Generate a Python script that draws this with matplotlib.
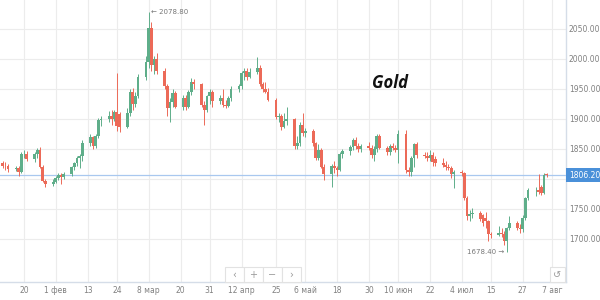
import matplotlib
matplotlib.use("Agg")
import matplotlib.pyplot as plt
import matplotlib.dates as mdates
from matplotlib.patches import Rectangle
import pandas as pd
import numpy as np

# ---------------- data ----------------
dates = pd.bdate_range("2022-01-12", "2022-08-05")

opens = [
    1827, 1822, 1821,
    1817, 1818, 1812, 1841, 1842,
    1833, 1841, 1849, 1820, 1797,
    1792, 1795, 1801, 1806, 1804,
    1808, 1820, 1826, 1835, 1838,
    1860, 1870, 1855, 1872, 1898,
    1900, 1905, 1900, 1912, 1908,
    1887, 1910, 1945, 1925, 1938,
    1970, 1995, 2052, 1990, 2000,
    1980, 1955, 1918, 1928, 1943,
    1920, 1935, 1920, 1945, 1962,
    1958, 1923, 1915, 1938, 1945,
    1930, 1935, 1923, 1922, 1935,
    1950, 1955, 1977, 1980, 1970,
    1978, 1985, 1958, 1950, 1945,
    1932, 1903, 1905, 1887, 1896,
    1900, 1855, 1860, 1890, 1877,
    1880, 1860, 1835, 1848, 1820,
    1808, 1822, 1818, 1815, 1842,
    1846, 1853, 1865, 1855, 1850,
    1855, 1852, 1840, 1850, 1872,
    1852, 1845, 1855, 1852, 1848,
    1875, 1815, 1812, 1835, 1858,
    1840, 1838, 1835, 1840, 1833,
    1826, 1824, 1820, 1818, 1808,
    1812, 1810, 1768, 1738, 1742,
    1744, 1740, 1735, 1730, 1708,
    1706, 1710, 1708, 1696, 1718,
    1727, 1719, 1717, 1735, 1768,
    1781, 1782, 1786, 1776, 1808,
]
highs = [
    1830, 1828, 1825,
    1822, 1821, 1845, 1848, 1847,
    1845, 1852, 1853, 1823, 1800,
    1800, 1805, 1810, 1810, 1812,
    1822, 1828, 1838, 1842, 1865,
    1875, 1872, 1875, 1902, 1905,
    1913, 1915, 1915, 1976, 1912,
    1918, 1950, 1952, 1945, 1975,
    2005, 2078.8, 2062, 2005, 2010,
    1985, 1958, 1935, 1950, 1947,
    1940, 1940, 1948, 1968, 1966,
    1960, 1930, 1940, 1950, 1948,
    1940, 1950, 1932, 1938, 1955,
    1958, 1980, 1985, 1985, 1985,
    2003, 1990, 1962, 1962, 1952,
    1935, 1910, 1908, 1910, 1920,
    1902, 1872, 1895, 1910, 1885,
    1884, 1862, 1858, 1852, 1825,
    1825, 1830, 1822, 1845, 1850,
    1856, 1868, 1870, 1860, 1858,
    1862, 1856, 1855, 1875, 1875,
    1855, 1858, 1860, 1856, 1882,
    1882, 1820, 1838, 1860, 1862,
    1845, 1845, 1848, 1845, 1838,
    1835, 1830, 1825, 1822, 1815,
    1815, 1812, 1772, 1748, 1752,
    1746, 1742, 1745, 1732, 1712,
    1722, 1718, 1714, 1720, 1738,
    1730, 1725, 1740, 1770, 1785,
    1787, 1808, 1790, 1810, 1810,
]
lows = [
    1818, 1815, 1812,
    1814, 1805, 1810, 1835, 1830,
    1828, 1835, 1818, 1795, 1787,
    1788, 1793, 1798, 1792, 1800,
    1805, 1815, 1822, 1818, 1830,
    1855, 1850, 1852, 1868, 1888,
    1895, 1890, 1896, 1880, 1878,
    1885, 1905, 1915, 1920, 1935,
    1965, 1985, 1980, 1975, 1975,
    1950, 1905, 1895, 1920, 1918,
    1915, 1915, 1918, 1940, 1950,
    1920, 1890, 1912, 1925, 1920,
    1925, 1920, 1918, 1920, 1930,
    1945, 1950, 1965, 1965, 1968,
    1975, 1955, 1945, 1943, 1930,
    1900, 1895, 1882, 1885, 1890,
    1850, 1850, 1855, 1872, 1870,
    1855, 1832, 1832, 1818, 1798,
    1787, 1810, 1805, 1813, 1835,
    1840, 1848, 1850, 1845, 1845,
    1848, 1835, 1830, 1845, 1850,
    1840, 1840, 1848, 1845, 1826,
    1810, 1805, 1805, 1820, 1835,
    1835, 1830, 1830, 1822, 1822,
    1820, 1815, 1815, 1802, 1785,
    1805, 1765, 1732, 1730, 1735,
    1730, 1722, 1718, 1697, 1702,
    1705, 1703, 1690, 1678.4, 1715,
    1715, 1710, 1712, 1732, 1765,
    1772, 1775, 1773, 1775, 1803,
]
closes = [
    1822, 1821, 1817,
    1818, 1812, 1841, 1842, 1833,
    1841, 1849, 1820, 1797, 1792,
    1795, 1801, 1806, 1804, 1808,
    1820, 1826, 1835, 1838, 1860,
    1870, 1855, 1872, 1898, 1900,
    1905, 1900, 1912, 1888, 1887,
    1910, 1945, 1925, 1938, 1970,
    1995, 2052, 1990, 2000, 1980,
    1955, 1918, 1928, 1943, 1920,
    1935, 1920, 1945, 1962, 1958,
    1923, 1915, 1938, 1945, 1930,
    1935, 1923, 1922, 1935, 1950,
    1955, 1977, 1980, 1970, 1978,
    1985, 1958, 1950, 1945, 1932,
    1903, 1905, 1887, 1896, 1900,
    1855, 1860, 1890, 1877, 1880,
    1860, 1835, 1848, 1820, 1808,
    1822, 1818, 1815, 1842, 1846,
    1853, 1865, 1855, 1850, 1855,
    1852, 1840, 1850, 1872, 1852,
    1845, 1855, 1852, 1848, 1875,
    1815, 1812, 1835, 1858, 1840,
    1838, 1835, 1840, 1828, 1826,
    1824, 1820, 1818, 1808, 1812,
    1810, 1768, 1738, 1742, 1744,
    1734, 1726, 1730, 1708, 1706,
    1710, 1708, 1696, 1718, 1727,
    1719, 1717, 1735, 1768, 1781,
    1782, 1778, 1776, 1806, 1806.2,
]

tick_dates = ["2022-01-20", "2022-02-01", "2022-02-13", "2022-02-24", "2022-03-08",
              "2022-03-20", "2022-03-31", "2022-04-12", "2022-04-25", "2022-05-06",
              "2022-05-18", "2022-05-30", "2022-06-10", "2022-06-22", "2022-07-04",
              "2022-07-15", "2022-07-27", "2022-08-07"]
tick_labels = ["20", "1 фев", "13", "24", "8 мар", "20", "31", "12 апр", "25", "6 май",
               "18", "30", "10 июн", "22", "4 июл", "15", "27", "7 авг"]
price_ticks = [1700, 1750, 1800, 1850, 1900, 1950, 2000, 2050]
last_price = 1806.20
title = "Gold"

# ---------------- plot ----------------
UP = "#5fae8a"
DOWN = "#ec6a58"
GRID = "#ececec"
AXC = "#d5dde8"
TXT = "#808080"

fig = plt.figure(figsize=(6, 3), dpi=100)
ax = fig.add_axes([0.0, 0.06, 566 / 600, 0.94])

x = mdates.date2num(dates.to_pydatetime())
o = np.array(opens, float); h = np.array(highs, float)
l = np.array(lows, float); c = np.array(closes, float)
up = c >= o
cols = np.where(up, UP, DOWN)

ax.vlines(x, l, h, colors=cols, linewidth=0.7, zorder=3)
bottoms = np.minimum(o, c)
heights = np.maximum(np.abs(c - o), 0.8)
ax.bar(x, heights, bottom=bottoms, width=1.05, color=cols, linewidth=0, zorder=4)

x20 = mdates.date2num(pd.Timestamp("2022-01-20"))
ax.set_xlim(x20 - 9.05, x20 + 204.3)
ax.set_ylim(1628.3, 2098.3)

tx = mdates.date2num(pd.to_datetime(tick_dates).to_pydatetime())
ax.set_xticks(tx)
ax.set_xticklabels(tick_labels)
ax.set_yticks(price_ticks)
# the 1800 label sits beneath the last-price box in the reference
ax.set_yticklabels(["" if p == 1800 else f"{p:.2f}" for p in price_ticks])
ax.yaxis.tick_right()
ax.tick_params(axis="both", length=0, labelsize=5.5, colors=TXT)
ax.tick_params(axis="x", pad=3)
ax.tick_params(axis="y", pad=2)
ax.grid(True, color=GRID, linewidth=0.8, zorder=0)
for s in ["top", "left"]:
    ax.spines[s].set_visible(False)
ax.spines["right"].set_color(AXC)
ax.spines["bottom"].set_color(AXC)
ax.spines["right"].set_linewidth(1.0)
ax.spines["bottom"].set_linewidth(1.0)

# last price line and label
ax.axhline(last_price, color="#a9c8ef", linewidth=0.9, zorder=2)
ax.annotate(f"{last_price:.2f}", xy=(1.0, last_price), xycoords=("axes fraction", "data"),
            xytext=(2, 0), textcoords="offset points", ha="left", va="center",
            fontsize=5.5, color="white",
            bbox=dict(boxstyle="square,pad=0.35", fc="#4a90d9", ec="none"),
            annotation_clip=False)

# extremes
imax = int(np.argmax(h)); imin = int(np.argmin(l))
ax.annotate(f"← {h[imax]:.2f}", xy=(x[imax], h[imax]), xytext=(2, 0),
            textcoords="offset points", ha="left", va="center", fontsize=5, color="#777777")
ax.annotate(f"{l[imin]:.2f} →", xy=(x[imin], l[imin]), xytext=(-2, 0),
            textcoords="offset points", ha="right", va="center", fontsize=5, color="#777777")

# title
fig.text(372 / 600, 1 - 83 / 300, title, fontsize=12, fontweight="bold", fontstyle="italic",
         family=["Open Sans", "DejaVu Sans"], ha="left", va="center", color="#111111")

# navigation buttons
bx = [225, 244, 263, 282]
glyphs = ["‹", "+", "−", "›"]
for b, g in zip(bx, glyphs):
    fig.patches.append(Rectangle((b / 600, 1 - 282 / 300), 19 / 600, 15 / 300,
                                 transform=fig.transFigure, fc="white", ec="#e2e2e2",
                                 lw=0.8, zorder=5))
    fig.text((b + 9.5) / 600, 1 - 275 / 300, g, ha="center", va="center",
             fontsize=7, color="#9a9a9a", zorder=6)
fig.patches.append(Rectangle((550 / 600, 1 - 282 / 300), 15 / 600, 15 / 300,
                             transform=fig.transFigure, fc="white", ec="#e2e2e2",
                             lw=0.8, zorder=5))
fig.text(557.5 / 600, 1 - 275 / 300, "↺", ha="center", va="center",
         fontsize=7, color="#9a9a9a", zorder=6)

fig.savefig("out.png", dpi=100, facecolor="white")
